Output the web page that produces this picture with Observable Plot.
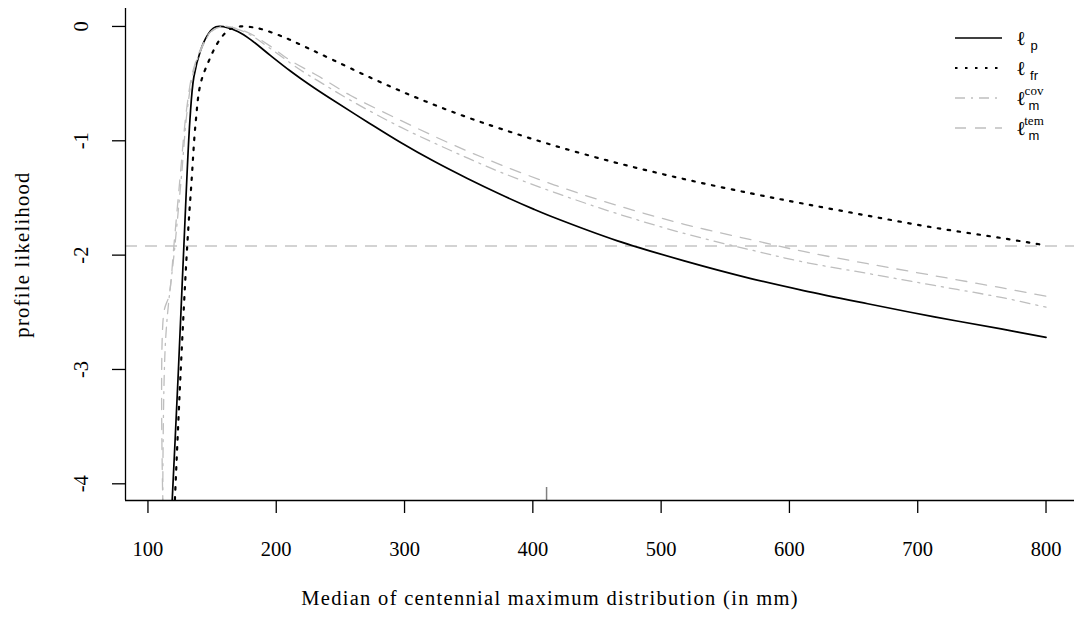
<!DOCTYPE html>
<html>
<head>
<meta charset="utf-8">
<script src="https://cdn.jsdelivr.net/npm/d3@7"></script>
<script src="https://cdn.jsdelivr.net/npm/@observablehq/plot@0.6"></script>
<style>
  body { margin: 0; background: #fff; }
  #chart { position: relative; width: 1074px; height: 628px; }
  #chart svg { overflow: visible; }
</style>
</head>
<body>
<div id="chart"></div>
<script>
// ---- data ----
const xTicks = [100, 200, 300, 400, 500, 600, 700, 800];
const yTicks = [0, -1, -2, -3, -4];
const refLevel = [-1.92];
const rugX = [410.7];

const xLabel = "Median of centennial maximum distribution (in mm)";
const yLabel = "profile likelihood";

// l_p (solid black)
const lpX = [117.8, 123.6, 128.0, 132.7, 135.8, 141.0, 146.2, 151.0, 155.5, 162, 170, 180, 195.6, 211, 219, 230, 245, 271, 297, 323, 349, 375, 401, 414, 466, 518, 570, 611, 661, 713, 765, 800];
const lpY = [-4.4, -3.04, -1.92, -0.82, -0.44, -0.21, -0.08, -0.015, 0, -0.01, -0.045, -0.115, -0.255, -0.39, -0.455, -0.54, -0.65, -0.835, -1.015, -1.18, -1.33, -1.47, -1.60, -1.66, -1.875, -2.05, -2.205, -2.31, -2.425, -2.54, -2.645, -2.72];

// l_fr (dotted black)
const lfrX = [120.0, 125.4, 130.6, 134.0, 137.1, 141.0, 147.5, 154.0, 160, 164.4, 172, 180, 188, 206, 224, 245, 271, 297, 323, 349, 375, 416, 466, 518, 570, 611, 661, 713, 765, 800];
const lfrY = [-4.4, -3.04, -1.92, -1.35, -0.85, -0.50, -0.30, -0.15, -0.06, -0.02, 0, -0.005, -0.022, -0.094, -0.186, -0.297, -0.435, -0.565, -0.685, -0.795, -0.895, -1.04, -1.195, -1.335, -1.46, -1.55, -1.655, -1.76, -1.85, -1.915];

// l_m^cov (grey dash-dot)
const covX = [111.5, 113.7, 121, 126.2, 130.6, 135.8, 143.6, 150, 159, 170, 180, 195, 211, 221.5, 232, 258, 297, 336, 375, 419, 466, 518, 570, 611, 661, 713, 765, 800];
const covY = [-4.4, -2.75, -1.92, -1.3, -0.735, -0.385, -0.151, -0.04, 0, -0.025, -0.075, -0.19, -0.32, -0.40, -0.472, -0.647, -0.881, -1.085, -1.275, -1.46, -1.638, -1.81, -1.955, -2.06, -2.16, -2.265, -2.37, -2.455];

// l_m^tem (grey dashed)
const temX = [112.0, 112.4, 116.5, 120.2, 125.2, 130, 135.2, 143, 150, 160, 170, 180, 195, 211, 232, 258, 297, 336, 375, 419, 466, 518, 570, 611, 661, 713, 765, 800];
const temY = [-4.4, -2.5, -2.35, -1.92, -1.3, -0.735, -0.385, -0.151, -0.035, 0, -0.02, -0.064, -0.17, -0.297, -0.429, -0.604, -0.822, -1.026, -1.21, -1.395, -1.566, -1.73, -1.865, -1.968, -2.075, -2.18, -2.285, -2.359];

const seriesNames = ["p", "fr", "cov", "tem"];
const legendSub = ["p", "fr", "m", "m"];
const legendSup = ["", "", "cov", "tem"];

// ---- build table ----
const toRows = (name, xs, ys) => xs.map((x, i) => ({series: name, x, y: ys[i]}));
const rows = [
  ...toRows("p", lpX, lpY),
  ...toRows("fr", lfrX, lfrY),
  ...toRows("cov", covX, covY),
  ...toRows("tem", temX, temY)
];
const styles = {
  p:   {stroke: "#000", strokeWidth: 1.7},
  fr:  {stroke: "#000", strokeWidth: 2.2, strokeDasharray: "2.5,7.5"},
  cov: {stroke: "#bebebe", strokeWidth: 1.3, strokeDasharray: "10,6,2,6"},
  tem: {stroke: "#bebebe", strokeWidth: 1.3, strokeDasharray: "11,9"}
};

const xDomain = [82.5, 822.2];
const yDomain = [-4.146, 0.157];
const FS = 20.5;

const chart = Plot.plot({
  width: 1074,
  height: 628,
  marginLeft: 125,
  marginRight: 0,
  marginTop: 8,
  marginBottom: 128,
  style: {fontFamily: "'Liberation Serif', 'DejaVu Serif', serif", fontSize: FS + "px", background: "#fff", color: "#000"},
  x: {domain: xDomain},
  y: {domain: yDomain},
  marks: [
    Plot.ruleY(refLevel, {stroke: "#d3d3d3", strokeWidth: 2, strokeDasharray: "12,8"}),
    ...seriesNames.map(s => Plot.line(rows.filter(r => r.series === s), {
      x: "x", y: "y", curve: "catmull-rom", clip: true, ...styles[s]
    })),
    Plot.ruleX(rugX, {insetTop: 479, stroke: "#808080", strokeWidth: 1.5}),
    Plot.ruleX([xDomain[0]], {stroke: "#000", strokeWidth: 1.3}),
    Plot.ruleY([yDomain[0]], {stroke: "#000", strokeWidth: 1.3}),
    Plot.axisX({ticks: xTicks, tickSize: 13, tickPadding: 28, tickFormat: d => String(d), label: null, fontSize: FS, strokeWidth: 1.3}),
    Plot.axisY({ticks: yTicks, tickSize: 13, tickFormat: () => "", label: null, strokeWidth: 1.3}),
    Plot.text(yTicks, {y: d => d, text: d => String(d), frameAnchor: "left", dx: -44, rotate: -90, textAnchor: "middle", lineAnchor: "middle", fontSize: FS}),
    Plot.text([yLabel], {frameAnchor: "left", dx: -103, rotate: -90, textAnchor: "middle", lineAnchor: "middle", fontSize: FS}),
    Plot.text([xLabel], {frameAnchor: "bottom", dx: -50, dy: 98, textAnchor: "middle", lineAnchor: "middle", fontSize: FS})
  ]
});

document.getElementById("chart").appendChild(chart);

const svg = d3.select(chart);
// widen the axis titles to the reference's Computer-Modern-like spacing
svg.selectAll("text")
  .filter(function () { return this.textContent === xLabel || this.textContent === yLabel; })
  .attr("letter-spacing", "1.3px");

// ---- legend (top right) ----
const lg = svg.append("g").attr("class", "legend");
const rowY = [38, 68, 98, 128];
seriesNames.forEach((s, i) => {
  const y = rowY[i];
  const st = styles[s];
  lg.append("line")
    .attr("x1", 955).attr("x2", 1002).attr("y1", y).attr("y2", y)
    .attr("stroke", st.stroke).attr("stroke-width", st.strokeWidth)
    .attr("stroke-dasharray", st.strokeDasharray || null);
  lg.append("text")
    .attr("x", 1021).attr("y", y + 7)
    .attr("font-family", "'DejaVu Serif', serif").attr("font-size", 20)
    .text("ℓ");
  lg.append("text")
    .attr("x", 1034).attr("y", y + 12)
    .attr("font-family", "'Liberation Sans', sans-serif").attr("font-size", 13)
    .text(legendSub[i]);
  if (legendSup[i]) {
    lg.append("text")
      .attr("x", 1034).attr("y", y - 3)
      .attr("font-family", "'Liberation Serif', serif").attr("font-size", 13)
      .text(legendSup[i]);
  }
});
</script>
</body>
</html>
